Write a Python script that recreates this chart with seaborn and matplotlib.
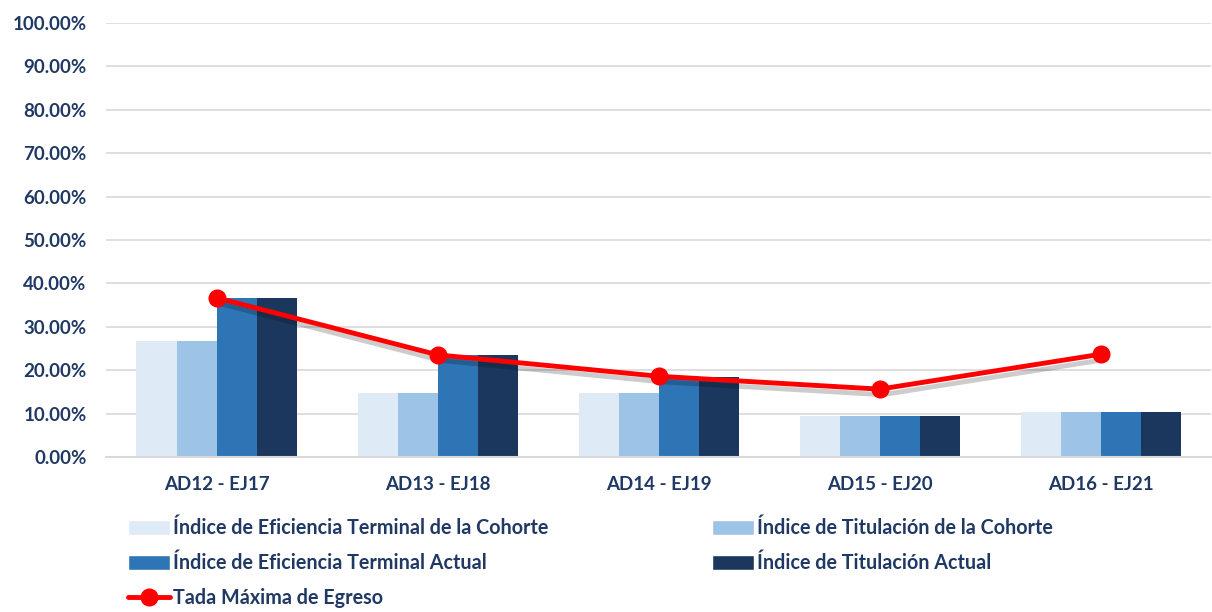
import matplotlib
matplotlib.use("Agg")
import matplotlib.pyplot as plt
import matplotlib.patheffects as pe
from matplotlib.patches import Patch
from matplotlib.lines import Line2D
from matplotlib.ticker import PercentFormatter
import numpy as np
import pandas as pd
import seaborn as sns

categorias = ['AD12 - EJ17', 'AD13 - EJ18', 'AD14 - EJ19', 'AD15 - EJ20', 'AD16 - EJ21']
series = ['Índice de Eficiencia Terminal de la Cohorte',
          'Índice de Titulación de la Cohorte',
          'Índice de Eficiencia Terminal Actual',
          'Índice de Titulación Actual']
ef_cohorte = [26.67, 14.71, 14.71, 9.38, 10.34]
tit_cohorte = [26.67, 14.71, 14.71, 9.38, 10.34]
ef_actual = [36.67, 23.53, 18.42, 9.38, 10.34]
tit_actual = [36.67, 23.53, 18.42, 9.38, 10.34]
tasa_egreso = [36.67, 23.53, 18.60, 15.63, 23.68]
linea_label = 'Tada Máxima de Egreso'

colores = ['#DEEBF7', '#9DC3E6', '#2E75B6', '#1B375E']
navy = '#1F3864'
rojo = '#FF0000'

sns.set_theme(style='white')
plt.rcParams['font.family'] = ['Lato', 'DejaVu Sans']
plt.rcParams['font.weight'] = 'bold'

df = pd.DataFrame({
    'cat': categorias * 4,
    'serie': np.repeat(series, len(categorias)),
    'valor': ef_cohorte + tit_cohorte + ef_actual + tit_actual,
})

fig = plt.figure(figsize=(12.12, 6.12), dpi=100)
ax = fig.add_axes([0.0875, 0.2533, 0.912, 0.7091])

sns.barplot(data=df, x='cat', y='valor', hue='serie', order=categorias,
            hue_order=series, palette=colores, width=0.725, gap=0,
            saturation=1, legend=False, ax=ax, zorder=2, linewidth=0)

pos = np.arange(len(categorias))
# linea con sombra, luego marcadores encima
ax.plot(pos, tasa_egreso, color=rojo, lw=3.5, zorder=4, solid_capstyle='round',
        path_effects=[pe.SimpleLineShadow(offset=(2, -4), shadow_color='black', alpha=0.2),
                      pe.Normal()])
ax.plot(pos, tasa_egreso, ls='none', marker='o', ms=12, color=rojo, zorder=5)

ax.set_ylim(0, 100)
ax.set_xlim(-0.5, len(categorias) - 0.5)
ax.set_yticks(np.arange(0, 101, 10))
ax.yaxis.set_major_formatter(PercentFormatter(decimals=2))
ax.grid(axis='y', color='#D9D9D9', lw=1.2, zorder=0)
ax.set_axisbelow(True)
for s in ['top', 'right', 'left']:
    ax.spines[s].set_visible(False)
ax.spines['bottom'].set_color('#D9D9D9')
ax.spines['bottom'].set_linewidth(1.5)
ax.set_xlabel('')
ax.set_ylabel('')
ax.tick_params(axis='both', length=0, labelsize=13.5, labelcolor=navy)
ax.tick_params(axis='y', pad=14)
ax.tick_params(axis='x', pad=14)
for t in ax.get_xticklabels() + ax.get_yticklabels():
    t.set_fontweight('bold')

# orden por columnas para que se lea por filas
handles = [Patch(facecolor=colores[0], label=series[0]),
           Patch(facecolor=colores[2], label=series[2]),
           Line2D([], [], color=rojo, lw=3.5, marker='o', ms=12, label=linea_label),
           Patch(facecolor=colores[1], label=series[1]),
           Patch(facecolor=colores[3], label=series[3])]
leg = fig.legend(handles=handles, ncol=2, loc='upper left',
                 bbox_to_anchor=(0.106, 0.153), frameon=False,
                 prop={'size': 14.2, 'weight': 'bold'}, handlelength=2.13,
                 handleheight=0.75, handletextpad=0.14, columnspacing=8.3,
                 labelspacing=0.76, borderaxespad=0, borderpad=0)
for t in leg.get_texts():
    t.set_color(navy)

fig.savefig('out.png', dpi=100)
